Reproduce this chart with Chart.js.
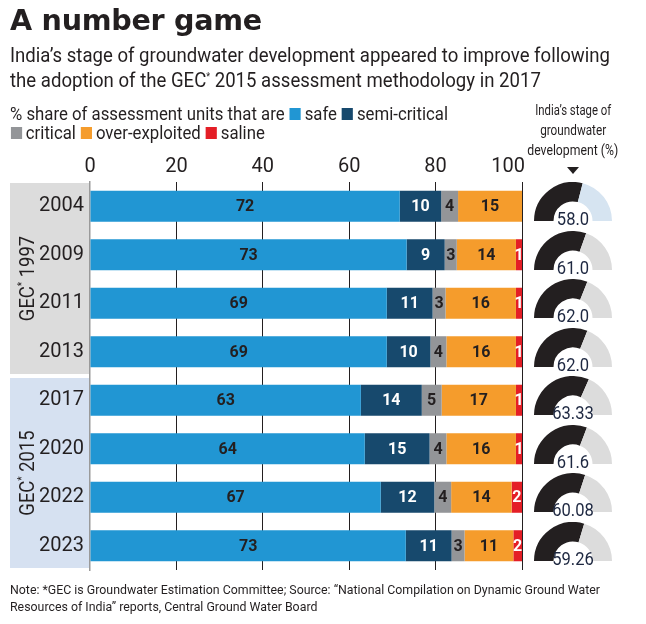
<!DOCTYPE html>
<html lang="en">
<head>
<meta charset="UTF-8">
<title>A number game</title>
<script src="https://cdn.jsdelivr.net/npm/chart.js"></script>
<style>
  body { margin: 0; width: 646px; height: 624px; background: #fff; position: relative; overflow: hidden;
         font-family: Roboto, "Liberation Sans", sans-serif; color: #231f20; }
  .abs { position: absolute; white-space: nowrap; transform-origin: 0 0; }
  #title { left: 10px; top: 3px; font: bold 29px "DejaVu Sans", sans-serif; letter-spacing: -0.3px; }
  #subtitle { left: 10px; top: 43px; font-size: 21px; line-height: 25px; }
  .sup { position: relative; top: -7px; font-size: 10px; line-height: 0; }
  #legend { left: 10px; top: 104px; font-size: 18px; line-height: 19px; }
  .sw { display: inline-block; width: 12px; height: 12px; margin: 0 4px 0 1px; vertical-align: 0px; }
  #gaugeHead { left: 513px; width: 120px; top: 100px; text-align: center; font-size: 15px; line-height: 20px; }
  #gaugeHead div { display: inline-block; transform-origin: 50% 0; }
  #tri { left: 567px; top: 167px; width: 0; height: 0; border-left: 6px solid transparent; border-right: 6px solid transparent; border-top: 7px solid #231f20; }
  #note { left: 10px; top: 581px; font-size: 13px; line-height: 17px; }
  #main { position: absolute; left: 0; top: 0; }
  .gauge { position: absolute; width: 78px; height: 46px; }
</style>
</head>
<body>
<canvas id="main" width="646" height="624"></canvas>
<div class="abs" id="title">A number game</div>
<div class="abs" id="subtitle"><span id="sub1">India’s stage of groundwater development appeared to improve following</span><br>the adoption of the GEC<span class="sup">*</span> 2015 assessment methodology in 2017</div>
<div class="abs" id="legend"></div>
<div class="abs" id="gaugeHead"><div>India’s stage of</div><br><div>groundwater</div><br><div>development (%)</div></div>
<div class="abs" id="tri"></div>
<div class="abs" id="note"><span id="note1">Note: *GEC is Groundwater Estimation Committee; Source: “National Compilation on Dynamic Ground Water</span><br>Resources of India” reports, Central Ground Water Board</div>

<script>
// categories
const years = ['2004', '2009', '2011', '2013', '2017', '2020', '2022', '2023'];

// % share of assessment units
const safe          = [71.7, 73.3, 68.7, 68.7, 62.7, 63.6, 67.3, 73.1];
const semiCritical  = [9.6, 8.8, 10.6, 10.1, 14.1, 15.0, 12.4, 10.6];
const critical      = [3.9, 2.8, 3.0, 3.7, 4.6, 3.9, 3.9, 3.0];
const overExploited = [14.8, 13.7, 16.3, 16.1, 17.2, 16.1, 14.0, 11.3];
const saline        = [0, 1.4, 1.4, 1.4, 1.4, 1.4, 2.4, 2.0];

// India's stage of groundwater development (%)
const stageValues = [58.0, 61.0, 62.0, 62.0, 63.33, 61.6, 60.08, 59.26];
const stageLabels = ['58.0', '61.0', '62.0', '62.0', '63.33', '61.6', '60.08', '59.26'];

const xTicks = [0, 20, 40, 60, 80, 100];

// methodology groups (index ranges into years)
const groupNames = ['GEC* 1997', 'GEC* 2015'];
const groupStart = [0, 4];
const groupEnd = [3, 7];

const FONT = 'Roboto, "Liberation Sans", sans-serif';
const INK = '#231f20';

const series = [
  { name: 'safe', data: safe, color: '#2196d3', text: INK },
  { name: 'semi-critical', data: semiCritical, color: '#17496d', text: '#fff' },
  { name: 'critical', data: critical, color: '#939598', text: INK },
  { name: 'over-exploited', data: overExploited, color: '#f59c2c', text: INK },
  { name: 'saline', data: saline, color: '#e41e26', text: '#fff' }
];
const groupColors = ['#dcdcdc', '#d6e1f1'];

// legend (html)
const lg = document.getElementById('legend');
const sw = s => `<span class="sw" style="background:${s.color}"></span>${s.name}`;
lg.innerHTML = '<span id="lg1">% share of assessment units that are ' + sw(series[0]) + ' ' + sw(series[1]) +
  '</span><br>' + sw(series[2]) + ' ' + sw(series[3]) + ' ' + sw(series[4]);

// squeeze text horizontally so it takes the same width as in the print version
function squeeze(el, ref, width) {
  const k = width / ref.getBoundingClientRect().width;
  el.style.transform = `scaleX(${k})`;
}
squeeze(document.getElementById('title'), document.getElementById('title'), 252);
squeeze(document.getElementById('subtitle'), document.getElementById('sub1'), 600);
squeeze(document.getElementById('legend'), document.getElementById('lg1'), 438);
squeeze(document.getElementById('note'), document.getElementById('note1'), 590);
document.querySelectorAll('#gaugeHead div').forEach((d, i) => squeeze(d, d, [76, 66, 91][i]));

// group bands behind the year labels
const groupBands = {
  id: 'groupBands',
  beforeDraw(chart) {
    const { ctx, scales: { y }, chartArea } = chart;
    const step = y.getPixelForValue(1) - y.getPixelForValue(0);
    groupNames.forEach((name, g) => {
      const top = y.getPixelForValue(groupStart[g]) - step / 2 + (g === 0 ? 1 : 2);
      const bot = y.getPixelForValue(groupEnd[g]) + step / 2 - 2;
      ctx.save();
      ctx.fillStyle = groupColors[g];
      ctx.fillRect(10, top, chartArea.left - 10, bot - top);
      // rotated label with superscript asterisk
      ctx.translate(28, (top + bot) / 2);
      ctx.rotate(-Math.PI / 2);
      ctx.scale(0.92, 1);
      ctx.fillStyle = INK;
      ctx.textBaseline = 'middle';
      const [a, b] = name.split('*');
      ctx.font = '20px ' + FONT;
      const wa = ctx.measureText(a).width, wb = ctx.measureText(b).width;
      ctx.font = '11px ' + FONT;
      const ws = ctx.measureText('*').width;
      const x = -(wa + ws + wb) / 2;
      ctx.font = '20px ' + FONT;
      ctx.fillText(a, x, 1);
      ctx.font = '11px ' + FONT;
      ctx.fillText('*', x + wa, -6);
      ctx.font = '20px ' + FONT;
      ctx.fillText(b, x + wa + ws, 1);
      ctx.restore();
    });
  }
};

// top axis labels: last one is pulled in so it ends at the 100 line
const topTicks = {
  id: 'topTicks',
  afterDraw(chart) {
    const { ctx, scales: { x }, chartArea } = chart;
    ctx.save();
    ctx.font = '20px ' + FONT;
    ctx.fillStyle = INK;
    ctx.textBaseline = 'alphabetic';
    xTicks.forEach((v, i) => {
      const last = i === xTicks.length - 1;
      ctx.textAlign = last ? 'right' : 'center';
      ctx.fillText(v, x.getPixelForValue(v) + (last ? 3 : 0), chartArea.top - 10);
    });
    ctx.restore();
  }
};

// rounded value labels inside each segment
const segmentLabels = {
  id: 'segmentLabels',
  afterDatasetsDraw(chart) {
    const { ctx } = chart;
    ctx.save();
    ctx.font = 'bold 16px ' + FONT;
    ctx.textAlign = 'center';
    ctx.textBaseline = 'middle';
    chart.data.datasets.forEach((ds, di) => {
      chart.getDatasetMeta(di).data.forEach((bar, i) => {
        const v = ds.data[i];
        if (!v) return;
        ctx.fillStyle = series[di].text;
        ctx.fillText(Math.round(v), (bar.x + bar.base) / 2, bar.y + 1);
      });
    });
    ctx.restore();
  }
};

const chart = new Chart(document.getElementById('main'), {
  type: 'bar',
  data: {
    labels: years,
    datasets: series.map(s => ({
      label: s.name, data: s.data, backgroundColor: s.color,
      borderWidth: 0, categoryPercentage: 0.8, barPercentage: 0.8
    }))
  },
  options: {
    indexAxis: 'y',
    responsive: false,
    animation: false,
    layout: { padding: { left: 10, top: 150, right: 124, bottom: 54 } },
    plugins: { legend: { display: false }, tooltip: { enabled: false } },
    scales: {
      x: {
        position: 'top', stacked: true, min: 0, max: 100,
        afterFit: a => { a.height = 32; },
        afterBuildTicks: a => { a.ticks = xTicks.map(v => ({ value: v })); },
        ticks: { display: false },
        grid: { drawTicks: false, color: c => c.tick && c.tick.value === 0 ? 'rgba(0,0,0,0)' : INK, lineWidth: 1 },
        border: { display: false }
      },
      y: {
        stacked: true,
        afterFit: a => { a.width = 80; },
        ticks: { color: INK, font: { family: FONT, size: 20 }, padding: 6 },
        grid: { display: false, drawTicks: false },
        border: { display: true, color: '#9a9a9a', width: 1.5 }
      }
    }
  },
  plugins: [groupBands, segmentLabels, topTicks]
});

// gauges, one per year, aligned with the bar rows
const gaugeText = {
  id: 'gaugeText',
  afterDraw(c) {
    const { ctx, chartArea } = c;
    ctx.save();
    ctx.font = '18px ' + FONT;
    ctx.fillStyle = '#1d2740';
    ctx.textAlign = 'center';
    ctx.textBaseline = 'alphabetic';
    const cx = (chartArea.left + chartArea.right) / 2;
    ctx.translate(cx, chartArea.bottom + 4);
    ctx.scale(0.92, 1);
    ctx.fillText(c.options.plugins.gaugeText.text, 0, 0);
    ctx.restore();
  }
};

years.forEach((yr, i) => {
  const cy = chart.scales.y.getPixelForValue(i);
  const cv = document.createElement('canvas');
  cv.className = 'gauge';
  cv.width = 78; cv.height = 46;
  cv.style.left = '534px';
  cv.style.top = (cy - 24) + 'px';
  document.body.appendChild(cv);
  new Chart(cv, {
    type: 'doughnut',
    data: {
      datasets: [{
        data: [stageValues[i], 100 - stageValues[i]],
        backgroundColor: [INK, i === 0 ? '#d6e4f1' : '#dcdcdc'],
        borderWidth: 0
      }]
    },
    options: {
      responsive: false, animation: false,
      rotation: -90, circumference: 180, cutout: '50%',
      layout: { padding: { bottom: 7 } },
      plugins: { legend: { display: false }, tooltip: { enabled: false }, gaugeText: { text: stageLabels[i] } }
    },
    plugins: [gaugeText]
  });
});
</script>
</body>
</html>
